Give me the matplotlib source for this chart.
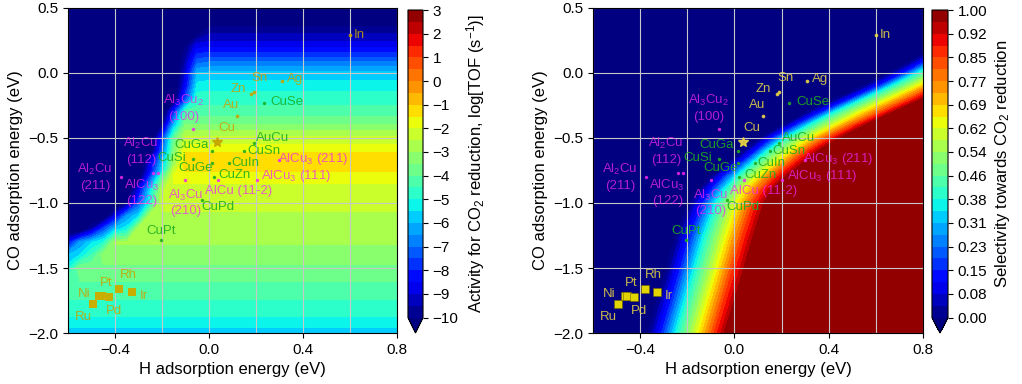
import numpy as np
import matplotlib
matplotlib.use("Agg")
import matplotlib.pyplot as plt

plt.rcParams['font.family'] = ['Liberation Sans', 'DejaVu Sans']
plt.rcParams['mathtext.fontset'] = 'custom'
plt.rcParams['mathtext.rm'] = 'Liberation Sans'
plt.rcParams['mathtext.it'] = 'Liberation Sans:italic'

# --- activity map (left): log TOF on a grid ---
act_h = [-0.6, -0.55, -0.5, -0.45, -0.4, -0.35, -0.3, -0.25, -0.2, -0.15, -0.1, -0.05, 0.0, 0.8]
act_co = [0.5, 0.4, 0.3, 0.2, 0.1, 0.0, -0.1, -0.2, -0.3, -0.4, -0.5, -0.6, -0.65, -0.7,
          -0.75, -0.8, -0.9, -1.0, -1.1, -1.2, -1.3, -1.4, -1.5, -1.6, -1.7, -1.8, -1.9, -2.0]
act_tof = [
    [-11] * 14,
    [-11] * 12 + [-10.4, -10.4],
    [-11] * 11 + [-10.2, -9.5, -9.5],
    [-11] * 10 + [-10.0, -8.6, -8.6, -8.6],
    [-11] * 10 + [-9.5, -7.4, -7.2, -7.2],
    [-11] * 10 + [-9.0, -6.0, -5.9, -5.9],
    [-11] * 10 + [-8.5, -5.3, -5.2, -5.2],
    [-11] * 9 + [-10.6, -7.5, -4.7, -4.7, -4.7],
    [-11] * 9 + [-8.0, -4.3, -4.3, -4.3, -4.3],
    [-11] * 8 + [-10.0, -6.0, -3.5, -3.5, -3.5, -3.5],
    [-11] * 8 + [-8.0, -4.0, -2.4, -2.4, -2.4, -2.4],
    [-11] * 7 + [-10.8, -7.2, -3.5, -1.6, -1.6, -1.6, -1.6],
    [-11] * 7 + [-9.4, -6.5, -3.0, -1.2, -1.2, -1.2, -1.2],
    [-11] * 7 + [-8.8, -6.0, -3.0, -1.1, -1.1, -1.1, -1.1],
    [-11] * 7 + [-8.5, -5.6, -2.2, -1.4, -1.4, -1.4, -1.4],
    [-11] * 6 + [-10.6, -7.6, -4.2, -1.9, -1.9, -1.9, -1.9, -1.9],
    [-11] * 6 + [-8.8, -5.5, -2.6, -2.1, -2.1, -2.1, -2.1, -2.1],
    [-11] * 5 + [-10.0, -7.5, -5.0] + [-2.4] * 6,
    [-11] * 4 + [-8.8, -6.5, -5.5] + [-2.55] * 7,
    [-11, -11, -9.5, -7.5, -5.8, -5.2] + [-2.7] * 8,
    [-8.5, -6.5, -5.6, -5.0] + [-2.95] * 10,
    [-6.0, -5.5, -4.5] + [-3.25] * 11,
    [-5.2] + [-3.6] * 13,
    [-4.0] * 14,
    [-4.35] * 14,
    [-4.7] * 14,
    [-5.1] * 14,
    [-5.8] * 14,
]
act_ticks = list(range(-10, 4))

# --- selectivity map (right): H energy where each selectivity level is reached, per CO row ---
sel_marks = [0.0, 0.15, 0.38, 0.62, 0.85, 1.0]
sel_co = [0.5, 0.2, 0.1, 0.0, -0.1, -0.2, -0.3, -0.4, -0.5, -0.6, -0.7, -0.8, -0.9, -1.0,
          -1.25, -1.5, -1.75, -2.0]
sel_cross = [
    [1.10, 1.16, 1.22, 1.32, 1.41, 1.48],
    [0.85, 0.90, 0.97, 1.05, 1.13, 1.20],
    [0.76, 0.82, 0.88, 0.97, 1.06, 1.13],
    [0.66, 0.72, 0.78, 0.88, 0.97, 1.04],
    [0.55, 0.61, 0.67, 0.77, 0.86, 0.93],
    [0.43, 0.49, 0.55, 0.65, 0.75, 0.81],
    [0.31, 0.37, 0.43, 0.53, 0.63, 0.69],
    [0.21, 0.26, 0.32, 0.42, 0.51, 0.57],
    [0.11, 0.16, 0.22, 0.31, 0.40, 0.46],
    [0.04, 0.09, 0.14, 0.23, 0.31, 0.37],
    [-0.03, 0.02, 0.075, 0.16, 0.24, 0.30],
    [-0.10, -0.05, 0.01, 0.09, 0.17, 0.23],
    [-0.15, -0.10, -0.04, 0.035, 0.115, 0.17],
    [-0.19, -0.135, -0.075, 0.005, 0.08, 0.14],
    [-0.245, -0.19, -0.125, -0.04, 0.035, 0.095],
    [-0.285, -0.23, -0.165, -0.08, -0.005, 0.055],
    [-0.325, -0.27, -0.205, -0.12, -0.045, 0.015],
    [-0.365, -0.31, -0.245, -0.16, -0.085, -0.03],
]

# --- catalysts ---
metal_names = ['In', 'Ag', 'Sn', 'Zn', 'Au']
metal_h = [0.60, 0.31, 0.19, 0.18, 0.12]
metal_co = [0.29, -0.06, -0.145, -0.16, -0.33]
cu_h, cu_co = 0.035, -0.53

sq_names = ['Ru', 'Ni', 'Pt', 'Pd', 'Rh', 'Ir']
sq_h = [-0.493, -0.466, -0.455, -0.427, -0.381, -0.328]
sq_co = [-1.777, -1.718, -1.716, -1.723, -1.66, -1.685]

green_names = ['CuSe', 'AuCu', 'CuSn', 'CuGa', 'CuIn', 'CuGe', 'CuSi', 'CuZn', 'CuPd', 'CuPt']
green_h = [0.233, 0.19, 0.151, 0.014, 0.087, 0.015, -0.066, 0.021, -0.03, -0.205]
green_co = [-0.228, -0.54, -0.597, -0.60, -0.69, -0.695, -0.66, -0.80, -0.98, -1.288]

pink_names = ['Al$_3$Cu$_2$\n(100)', 'Al$_2$Cu\n(112)', 'AlCu$_3$\n(122)', 'Al$_2$Cu\n(211)',
              'Al$_3$Cu\n(210)', 'AlCu (11-2)', 'AlCu$_3$ (111)', 'AlCu$_3$ (211)']
pink_h = [-0.067, -0.238, -0.218, -0.373, -0.10, 0.039, 0.203, 0.298]
pink_co = [-0.433, -0.772, -0.772, -0.80, -0.823, -0.82, -0.826, -0.667]

# label anchors (layout)
metal_lab = [(0.615, 0.29, 'left'), (0.33, -0.05, 'left'), (0.215, -0.035, 'center'),
             (0.123, -0.125, 'center'), (0.095, -0.25, 'center')]
cu_lab = (0.076, -0.425, 'center')
sq_lab = [(-0.535, -1.875), (-0.53, -1.70), (-0.436, -1.613), (-0.405, -1.828),
          (-0.344, -1.554), (-0.278, -1.715)]
green_lab = [(0.262, -0.22, 'left'), (0.271, -0.50, 'center'), (0.233, -0.598, 'center'),
             (-0.075, -0.554, 'center'), (0.155, -0.695, 'center'), (-0.057, -0.733, 'center'),
             (-0.157, -0.652, 'center'), (0.109, -0.785, 'center'), (0.038, -1.033, 'center'),
             (-0.203, -1.213, 'center')]
pink_lab = [(-0.108, -0.27), (-0.29, -0.60), (-0.285, -0.92), (-0.485, -0.80),
            (-0.10, -0.995), (0.125, -0.905), (0.37, -0.79), (0.441, -0.664)]

GRN, MAG = '#1fae1f', '#f028f0'
LFS = 9.5

# build selectivity grid from the crossing table
cross = np.array(sel_cross)
fine_h = np.linspace(-0.6, 0.8, 281)
fine_co = np.linspace(-2.0, 0.5, 251)
cross_fine = np.column_stack([np.interp(fine_co, sel_co[::-1], cross[::-1, k])
                              for k in range(len(sel_marks))])
sel_grid = np.array([np.interp(fine_h, row, sel_marks) for row in cross_fine])

fig = plt.figure(figsize=(10.22, 3.84), dpi=100)
ax1 = fig.add_axes([0.0665, 0.1328, 0.3219, 0.8464])
cax1 = fig.add_axes([0.3992, 0.1328, 0.0147, 0.8411])
ax2 = fig.add_axes([0.5802, 0.1328, 0.3229, 0.8464])
cax2 = fig.add_axes([0.9119, 0.1328, 0.0157, 0.8411])

cs1 = ax1.contourf(act_h, act_co, act_tof, levels=np.arange(-10, 3.01, 0.5), cmap='jet', extend='min')
cs2 = ax2.contourf(fine_h, fine_co, sel_grid, levels=np.linspace(0, 1, 27), cmap='jet', extend='min')

# per-panel yellow: darker gold on the bright activity map
yel = {ax1: '#c8a200', ax2: '#ecd844'}
for ax in (ax1, ax2):
    YEL = yel[ax]
    ax.set_xlim(-0.6, 0.8)
    ax.set_ylim(-2.0, 0.5)
    ax.set_xticks([-0.4, 0.0, 0.4, 0.8])
    ax.set_xticks([-0.6, -0.2, 0.2, 0.6], minor=True)
    ax.set_yticks([0.5, 0.0, -0.5, -1.0, -1.5, -2.0])
    ax.tick_params(which='minor', length=0)
    ax.tick_params(labelsize=11)
    ax.grid(True, which='both', color='#c8c8c8', lw=0.8)
    ax.set_xlabel('H adsorption energy (eV)', fontsize=12)
    ax.set_ylabel('CO adsorption energy (eV)', fontsize=12)

    ax.scatter(metal_h, metal_co, s=7, color=YEL, alpha=0.9, zorder=4, lw=0)
    ax.plot(cu_h, cu_co, '*', color=YEL, ms=7, alpha=0.9, zorder=4)
    ax.scatter(green_h, green_co, s=6, color=GRN, alpha=0.9, zorder=4, lw=0)
    ax.scatter(pink_h, pink_co, s=6, color=MAG, alpha=0.85, zorder=4, lw=0)
    for name, (x, y, ha) in zip(metal_names, metal_lab):
        ax.text(x, y, name, color=YEL, alpha=0.85, fontsize=LFS, ha=ha, va='center', zorder=5)
    ax.text(cu_lab[0], cu_lab[1], 'Cu', color=YEL, alpha=0.85, fontsize=LFS, ha='center', va='center', zorder=5)
    for name, (x, y) in zip(sq_names, sq_lab):
        ax.text(x, y, name, color=YEL, alpha=0.85, fontsize=LFS, ha='center', va='center', zorder=5)
    for name, (x, y, ha) in zip(green_names, green_lab):
        ax.text(x, y, name, color=GRN, alpha=0.9, fontsize=LFS, ha=ha, va='center', zorder=5)
    for name, (x, y) in zip(pink_names, pink_lab):
        ax.text(x, y, name, color=MAG, alpha=0.75, fontsize=LFS, ha='center', va='center',
                multialignment='center', linespacing=1.3, zorder=5)

ax1.scatter(sq_h, sq_co, s=28, marker='s', color='#c8ae00', lw=0, zorder=4)
ax2.scatter(sq_h, sq_co, s=28, marker='s', color='#e2d400', edgecolor='#6e6400', lw=0.4, zorder=4)

cb1 = fig.colorbar(cs1, cax=cax1, ticks=act_ticks)
cb1.set_label('Activity for CO$_2$ reduction, log[TOF (s$^{-1}$)]', fontsize=12)
cb1.ax.tick_params(labelsize=11)
cb2 = fig.colorbar(cs2, cax=cax2, ticks=np.linspace(0, 1, 14), format='%.2f')
cb2.set_label('Selectivity towards CO$_2$ reduction', fontsize=12)
cb2.ax.tick_params(labelsize=11)

fig.savefig('out.png', dpi=100)
